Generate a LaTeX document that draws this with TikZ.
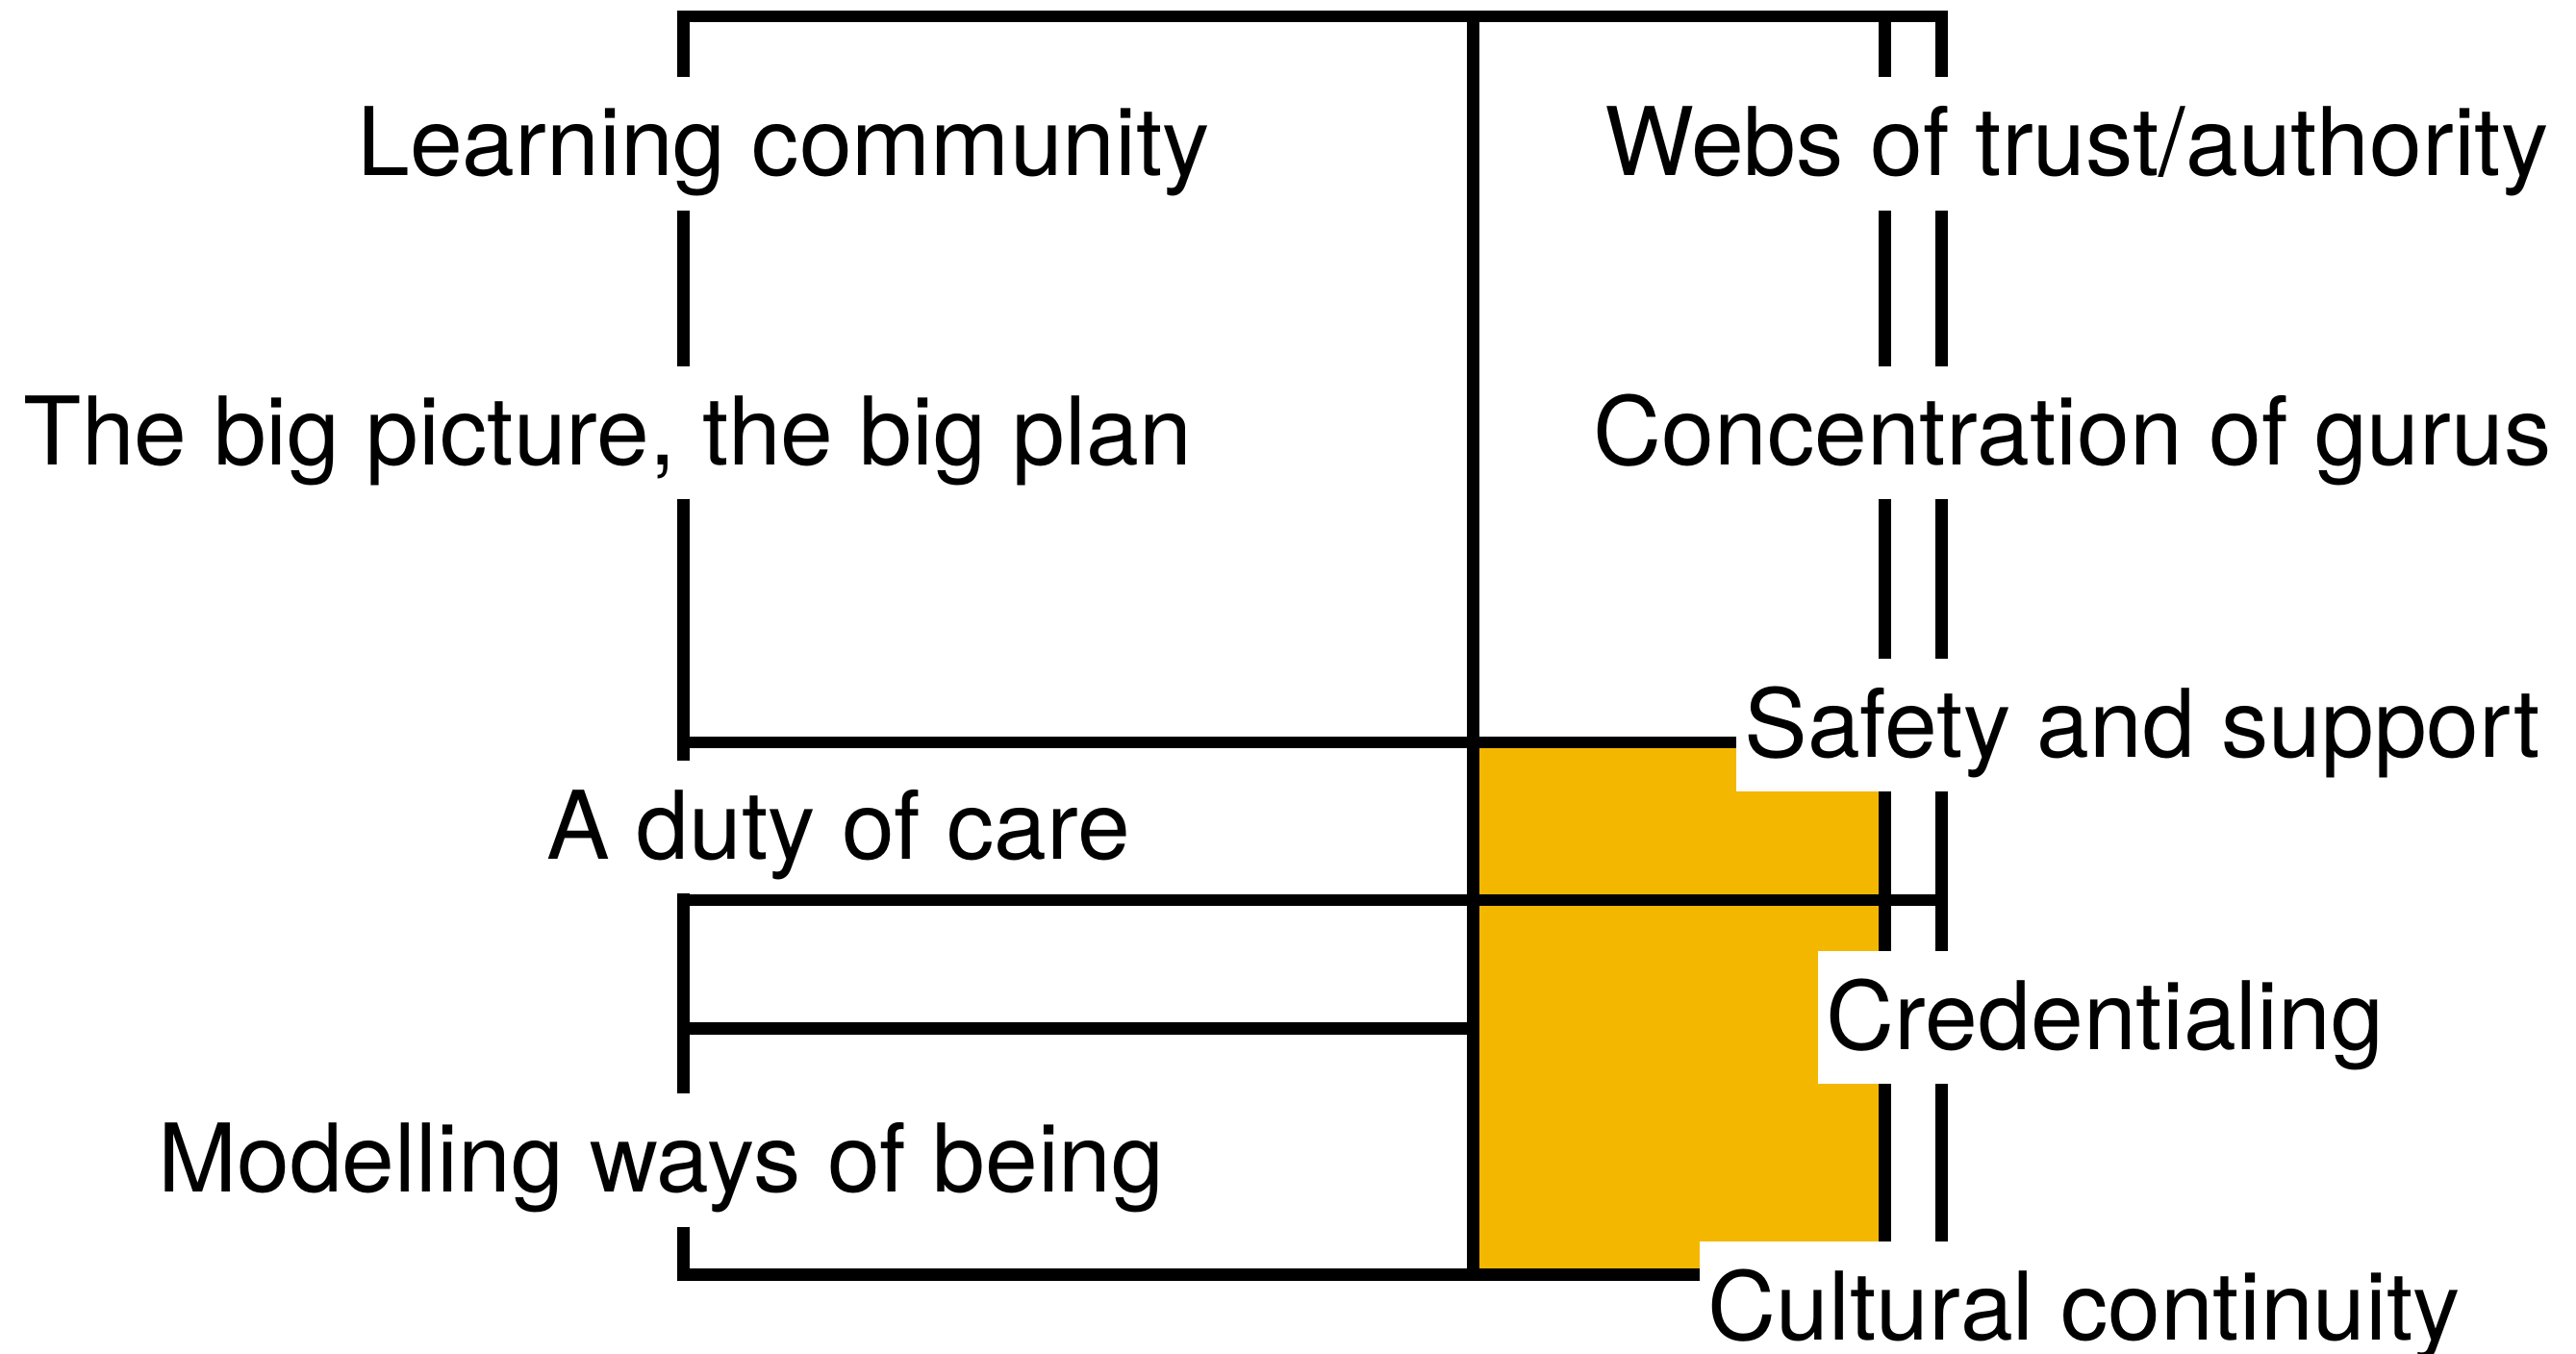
\documentclass[tikz,border=0pt]{standalone}
\usepackage{fontspec}
\setmainfont{TeX Gyre Heros}
\usepackage{tikz}
\definecolor{careYellow}{RGB}{243,183,0}
\newcommand{\gridUnit}[0]{0.01cm}
\newcommand{\tagSize}[0]{\fontsize{16.4}{19}\selectfont}

\begin{document}
\begin{tikzpicture}[x=\gridUnit, y=-\gridUnit, line width=0.075cm, line cap=rect]
  \tikzset{tag/.style={fill=white, inner xsep=0.05cm, inner ysep=0pt,
      text height=0.6cm, text depth=0.21cm, font=\tagSize}}
  \useasboundingbox (0,0) rectangle (1568,824);
  % columns and rows of the frame
  \coordinate (L-top) at (416,10);
  \coordinate (M-top) at (896.5,10);
  \coordinate (R1-top) at (1147.5,10);
  \coordinate (R2-top) at (1182,10);
  \coordinate (L-bot) at (416,776);
  \coordinate (M-bot) at (896.5,776);
  \coordinate (R1-bot) at (1147.5,776);
  \coordinate (R2-bot) at (1182,776);
  \coordinate (L-1) at (416,452);
  \coordinate (R1-1) at (1147.5,452);
  \coordinate (M-1) at (896.5,452);
  \coordinate (L-2) at (416,548);
  \coordinate (R2-2) at (1182,548);
  \coordinate (L-3) at (416,626);
  \coordinate (M-3) at (896.5,626);
  \fill[careYellow] (M-1) rectangle (R1-bot);
  \draw (L-top) -- (R2-top);
  \draw (L-top) -- (L-bot) -- (R1-bot);
  \draw (M-top) -- (M-bot);
  \draw (R1-top) -- (R1-bot);
  \draw (R2-top) -- (R2-bot);
  \draw (L-1) -- (R1-1);
  \draw (L-2) -- (R2-2);
  \draw (L-3) -- (M-3);
  % labels
  \node[tag, anchor=base] (T-L-1) at (477,107) {Learning community};
  \node[tag, anchor=base] (T-R-1) at (1264,107) {Webs of trust/authority};
  \node[tag, anchor=base] (T-L-2) at (370,283) {The big picture, the big plan};
  \node[tag, anchor=base] (T-R-2) at (1261.5,283) {Concentration of gurus};
  \node[tag, anchor=base west] (T-R-3) at (1053,461) {Safety and support};
  \node[tag, anchor=base] (T-L-3) at (510.5,523) {A duty of care};
  \node[tag, anchor=base west] (T-R-4) at (1103,639) {Credentialing};
  \node[tag, anchor=base] (T-L-4) at (402.5,726) {Modelling ways of being};
  \node[tag, anchor=base west] (T-R-5) at (1031,816) {Cultural continuity};
\end{tikzpicture}
\end{document}
